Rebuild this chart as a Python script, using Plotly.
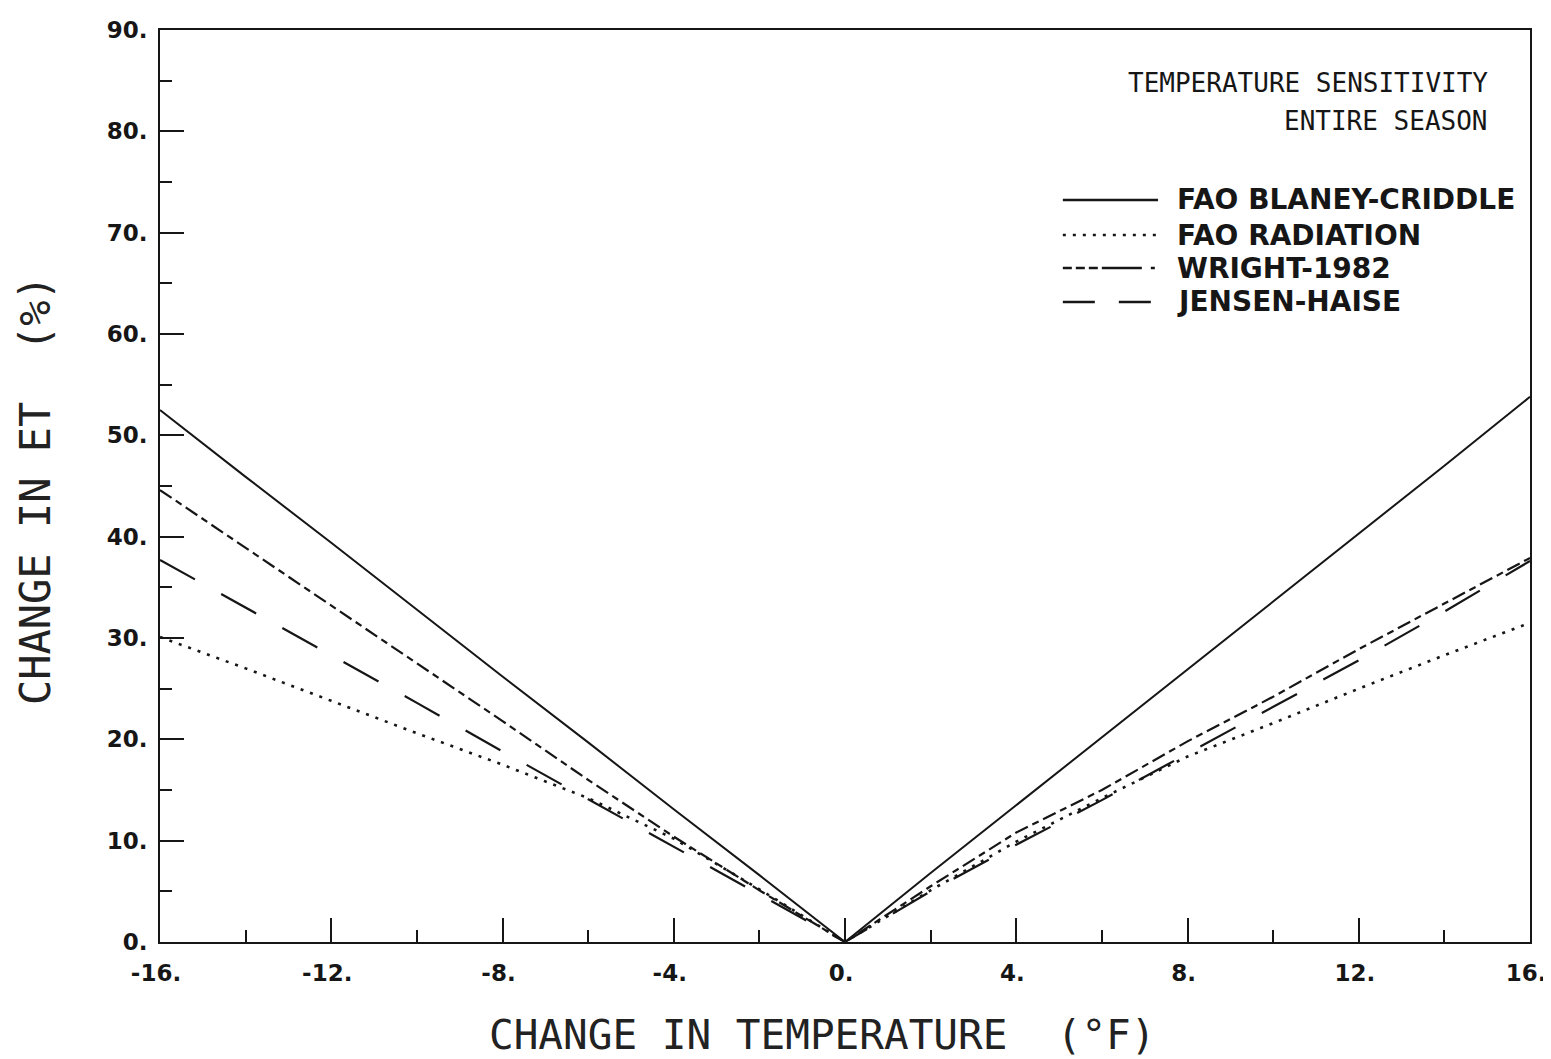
import plotly.graph_objects as go

# ---- data ----
temp_change = [-16, -14, -12, -10, -8, -6, -4, -2, 0, 2, 4, 6, 8, 10, 12, 14, 16]
blaney_criddle = [52.5, 45.9, 39.4, 32.8, 26.2, 19.7, 13.1, 6.6, 0, 6.8, 13.5, 20.2, 26.9, 33.6, 40.3, 47.0, 53.8]
fao_radiation = [30.1, 27.0, 23.8, 20.6, 17.5, 14.2, 10.2, 5.2, 0, 5.1, 9.9, 14.2, 18.3, 21.6, 25.0, 28.3, 31.5]
wright_1982 = [44.6, 38.9, 33.2, 27.5, 21.8, 16.0, 10.4, 5.1, 0, 5.5, 10.8, 15.0, 19.8, 24.2, 28.9, 33.4, 37.9]
jensen_haise = [37.7, 33.0, 28.3, 23.6, 18.8, 14.1, 9.4, 4.7, 0, 5.0, 9.6, 14.0, 18.6, 23.2, 27.8, 32.6, 37.6]

series_names = ["FAO BLANEY-CRIDDLE", "FAO RADIATION", "WRIGHT-1982", "JENSEN-HAISE"]
series_values = [blaney_criddle, fao_radiation, wright_1982, jensen_haise]
series_dash = ["solid", "3px,7px", "14px,5px,7px,5px", "40px,30px"]
series_width = [2, 2.6, 2.2, 2.2]
legend_dash = ["solid", "3px,7px", "9px,4px,9px,4px,9px,4px,40px", "32px,24px"]

x_tick_vals = [-16, -12, -8, -4, 0, 4, 8, 12, 16]
x_tick_text = ["-16.", "-12.", "-8.", "-4.", "0.", "4.", "8.", "12.", "16."]
y_tick_vals = [0, 10, 20, 30, 40, 50, 60, 70, 80, 90]
y_tick_text = ["0.", "10.", "20.", "30.", "40.", "50.", "60.", "70.", "80.", "90."]

title_lines = ["TEMPERATURE SENSITIVITY", "ENTIRE SEASON"]
x_title = "CHANGE IN TEMPERATURE  (°F)"
y_title = "CHANGE IN ET  (%)"

INK = "#161616"
PAGE_OFFSET = 8  # default body margin of the html page

fig = go.Figure()
for name, vals, dash, w in zip(series_names, series_values, series_dash, series_width):
    fig.add_trace(go.Scatter(
        x=temp_change, y=vals, mode="lines", name=name,
        line=dict(color=INK, width=w, dash=dash),
        showlegend=False,
    ))

# legend drawn as paper-space samples + text
legend_y = [0.8136, 0.7752, 0.7390, 0.7018]
shapes = []
annotations = []
for name, ly, dash in zip(series_names, legend_y, legend_dash):
    shapes.append(dict(type="line", xref="paper", yref="paper",
                       x0=0.659, x1=0.7285, y0=ly, y1=ly,
                       line=dict(color=INK, width=2.6, dash=dash)))
    annotations.append(dict(xref="paper", yref="paper", x=0.741, y=ly,
                            xanchor="left", yanchor="middle", showarrow=False,
                            text=name,
                            font=dict(family="DejaVu Sans", size=28, color=INK, weight=700)))

for txt, ty in zip(title_lines, [0.9419, 0.9002]):
    annotations.append(dict(xref="paper", yref="paper", x=0.9708, y=ty,
                            xanchor="right", yanchor="middle", showarrow=False,
                            text=txt,
                            font=dict(family="DejaVu Sans Mono", size=26, color=INK)))

annotations.append(dict(xref="paper", yref="paper", x=0.4832, y=-0.102,
                        xanchor="center", yanchor="middle", showarrow=False,
                        text=x_title,
                        font=dict(family="DejaVu Sans Mono", size=41, color="#222")))
annotations.append(dict(xref="paper", yref="paper", x=-0.0912, y=0.4956,
                        xanchor="center", yanchor="middle", showarrow=False,
                        textangle=-90, text=y_title,
                        font=dict(family="DejaVu Sans Mono", size=42, color="#222")))

tick_font = dict(family="DejaVu Sans", size=23, color=INK, weight=700)

fig.update_layout(
    width=1551 - PAGE_OFFSET, height=1059 - PAGE_OFFSET,
    margin=dict(l=160 - PAGE_OFFSET, r=21, t=30 - PAGE_OFFSET, b=117),
    paper_bgcolor="white", plot_bgcolor="white",
    shapes=shapes, annotations=annotations,
    xaxis=dict(
        range=[-16, 16], showgrid=False, zeroline=False, automargin=False,
        showline=True, linecolor=INK, linewidth=2, mirror=True,
        ticks="inside", ticklen=24, tickwidth=2, tickcolor=INK,
        tickvals=x_tick_vals, ticktext=x_tick_text, tickfont=tick_font,
        ticklabelstandoff=9, ticklabelshift=-4, ticklabeloverflow="allow",
        minor=dict(dtick=2, ticks="inside", ticklen=12, tickwidth=2, tickcolor=INK, showgrid=False),
    ),
    yaxis=dict(
        range=[0, 90], showgrid=False, zeroline=False, automargin=False,
        showline=True, linecolor=INK, linewidth=2, mirror=True,
        ticks="inside", ticklen=24, tickwidth=2, tickcolor=INK,
        tickvals=y_tick_vals, ticktext=y_tick_text, tickfont=tick_font,
        ticklabelstandoff=6, ticklabeloverflow="allow",
        minor=dict(dtick=5, ticks="inside", ticklen=12, tickwidth=2, tickcolor=INK, showgrid=False),
    ),
)

fig.write_html("out.html")
